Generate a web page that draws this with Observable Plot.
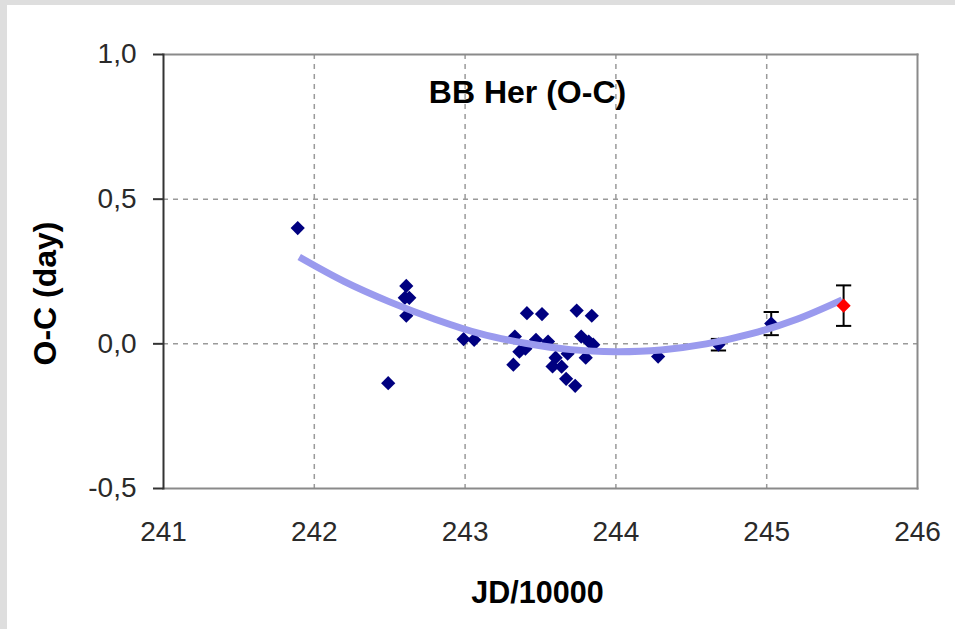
<!DOCTYPE html>
<html>
<head>
<meta charset="utf-8">
<script src="https://cdn.jsdelivr.net/npm/d3@7"></script>
<script src="https://cdn.jsdelivr.net/npm/@observablehq/plot@0.6"></script>
<style>
  html, body { margin: 0; padding: 0; background: #fff; width: 955px; height: 629px; overflow: hidden; }
  #chart { position: absolute; left: 0; top: 0; }
  .band { position: absolute; background: #dedede; }
</style>
</head>
<body>
<div id="chart"></div>
<div class="band" style="left:0;top:0;width:955px;height:5px"></div>
<div class="band" style="left:0;top:0;width:7px;height:629px"></div>
<script>
// Observations (JD/10000, O-C in days), navy diamonds
const obsJD = [241.89, 242.49, 242.61, 242.60, 242.63, 242.61,
  242.99, 243.06, 243.41, 243.51, 243.74, 243.84,
  243.33, 243.36, 243.32, 243.47, 243.55, 243.60, 243.58, 243.64, 243.67, 243.73,
  243.77, 243.82, 243.85, 243.80, 243.68, 243.40,
  244.28, 244.68, 245.03];
const obsOC = [0.400, -0.136, 0.200, 0.159, 0.159, 0.097,
  0.016, 0.014, 0.106, 0.103, 0.115, 0.097,
  0.025, -0.027, -0.072, 0.014, 0.008, -0.048, -0.078, -0.079, -0.121, -0.145,
  0.025, 0.008, -0.003, -0.048, -0.034, -0.017,
  -0.044, -0.003, 0.070];
// Error bars on the later observations
const errJD = [244.68, 245.03];
const errOC = [-0.003, 0.070];
const errSize = [0.02, 0.04];
// Newest observation (red)
const newJD = [245.51];
const newOC = [0.132];
const newErr = [0.07];
// Trend curve
const fitJD = [241.9, 242.2, 242.5, 242.8, 243.1, 243.4, 243.7, 244.0, 244.3, 244.6, 244.9, 245.2, 245.5];
const fitOC = [0.300, 0.215, 0.145, 0.085, 0.035, 0.002, -0.020, -0.027, -0.021, 0.000, 0.035, 0.085, 0.152];
// Axis ticks
const xTicks = [241, 242, 243, 244, 245, 246];
const yTicks = [-0.5, 0, 0.5, 1.0];
const xGrid = [242, 243, 244, 245];
const yGrid = [0, 0.5];

const obs = obsJD.map((x, i) => ({x, y: obsOC[i]}));
const errs = errJD.map((x, i) => ({x, y: errOC[i], lo: errOC[i] - errSize[i], hi: errOC[i] + errSize[i]}));
const newest = newJD.map((x, i) => ({x, y: newOC[i], lo: newOC[i] - newErr[i], hi: newOC[i] + newErr[i]}));
const fit = fitJD.map((x, i) => ({x, y: fitOC[i]}));

const capSymbol = {
  draw(context, size) {
    const w = Math.sqrt(size);
    context.moveTo(-w, 0);
    context.lineTo(w, 0);
  }
};
const capsOf = rows => rows.flatMap(d => [{x: d.x, y: d.lo}, {x: d.x, y: d.hi}]);

const font = "'Liberation Sans', Arial, sans-serif";
const fmt = d => d3.format(".1f")(d).replace(".", ",").replace("\u2212", "-");

const chart = Plot.plot({
  width: 955,
  height: 629,
  marginTop: 54,
  marginRight: 38,
  marginBottom: 141,
  marginLeft: 163,
  style: {fontFamily: font, background: "transparent", overflow: "visible"},
  x: {domain: [241, 246]},
  y: {domain: [-0.5, 1.0]},
  marks: [
    Plot.ruleX(xGrid, {stroke: "#9a9a9a", strokeWidth: 1.5, strokeDasharray: "5,5"}),
    Plot.ruleY(yGrid, {stroke: "#9a9a9a", strokeWidth: 1.5, strokeDasharray: "5,5"}),
    Plot.frame({anchor: "top", stroke: "#8a8a8a", strokeWidth: 2}),
    Plot.frame({anchor: "right", stroke: "#8a8a8a", strokeWidth: 2}),
    Plot.frame({anchor: "bottom", stroke: "#8a8a8a", strokeWidth: 2}),
    Plot.axisY({ticks: yTicks, tickFormat: fmt, tickSize: 10, tickPadding: 17, fontSize: 28, label: null, stroke: "#333", strokeWidth: 2, color: "#2a2a2a"}),
    Plot.frame({anchor: "left", stroke: "#333", strokeWidth: 2}),
    Plot.axisX({ticks: xTicks, tickFormat: d => String(d), tickSize: 0, tickPadding: 33, fontSize: 28, label: null, color: "#2a2a2a"}),
    Plot.ruleX(errs, {x: "x", y1: "lo", y2: "hi", stroke: "#000", strokeWidth: 2}),
    Plot.dot(capsOf(errs), {x: "x", y: "y", symbol: capSymbol, r: 4.3, stroke: "#000", strokeWidth: 2, fill: "none"}),
    Plot.dot(obs, {x: "x", y: "y", symbol: "diamond2", r: 6.4, fill: "#000080", stroke: "none"}),
    Plot.line(fit, {x: "x", y: "y", curve: "catmull-rom", stroke: "#9a9aee", strokeWidth: 7, strokeLinecap: "butt"}),
    Plot.ruleX(newest, {x: "x", y1: "lo", y2: "hi", stroke: "#000", strokeWidth: 2}),
    Plot.dot(capsOf(newest), {x: "x", y: "y", symbol: capSymbol, r: 4.3, stroke: "#000", strokeWidth: 2, fill: "none"}),
    Plot.dot(newest, {x: "x", y: "y", symbol: "diamond2", r: 6.4, fill: "#ff0000", stroke: "none"}),
    Plot.text(["BB Her (O-C)"], {frameAnchor: "top", dx: -13, dy: 38, lineAnchor: "middle", fontSize: 32, fontWeight: "bold", fill: "#000"}),
    Plot.text(["JD/10000"], {frameAnchor: "bottom", dx: -3, dy: 105, lineAnchor: "middle", fontSize: 30.5, fontWeight: "bold", fill: "#000"}),
    Plot.text(["O-C (day)"], {frameAnchor: "left", textAnchor: "middle", dx: -118, dy: 22, rotate: -90, lineAnchor: "middle", fontSize: 32, fontWeight: "bold", fill: "#000"})
  ]
});
document.getElementById("chart").appendChild(chart);
</script>
</body>
</html>
